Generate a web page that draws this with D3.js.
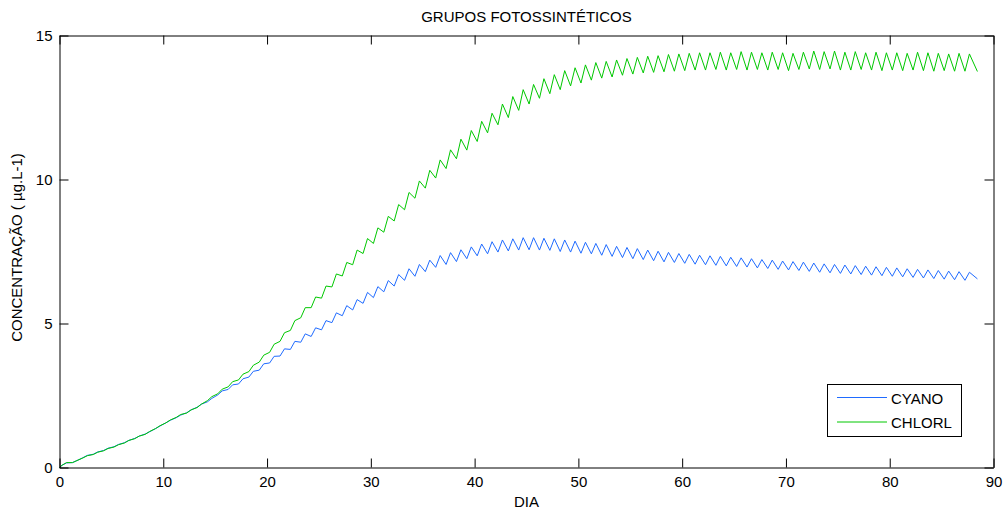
<!DOCTYPE html>
<html>
<head>
<meta charset="utf-8">
<script src="https://cdn.jsdelivr.net/npm/d3@7"></script>
<style>
  html, body { margin: 0; padding: 0; background: #fff; }
  svg { display: block; font-family: "Liberation Sans", Arial, sans-serif; }
</style>
</head>
<body>
<svg id="chart" width="1007" height="510"></svg>
<script>
// ---- Data ----
const titleText = "GRUPOS FOTOSSINTÉTICOS";
const xLabelText = "DIA";
const yLabelText = "CONCENTRAÇÃO ( µg.L-1)";
const seriesNames = ["CYANO", "CHLORL"];
const xTicks = [0, 10, 20, 30, 40, 50, 60, 70, 80, 90];
const yTicks = [0, 5, 10, 15];
const startValue = 0;        // value at day 0
const lastDay = 88.45;       // day of the final sample
// daily trough (early in the day) and peak (later in the day), day 0 .. 88
const cyanoLow = [0.08,0.17,0.34,0.46,0.59,0.72,0.86,1.01,1.16,1.35,1.55,1.73,1.9,2.09,2.28,2.52,2.71,2.9,3.14,3.38,
  3.63,3.87,4.1,4.35,4.55,4.78,5.03,5.27,5.47,5.7,5.9,6.1,6.3,6.5,6.64,6.8,6.95,7.05,7.15,7.25,
  7.35,7.42,7.48,7.52,7.55,7.56,7.55,7.54,7.5,7.48,7.44,7.42,7.37,7.33,7.29,7.25,7.22,7.18,7.14,7.12,
  7.09,7.06,7.04,7.02,7.0,6.98,6.96,6.93,6.91,6.88,6.86,6.84,6.81,6.78,6.76,6.74,6.72,6.7,6.68,6.66,
  6.64,6.62,6.6,6.58,6.56,6.54,6.52,6.5,6.55];
const cyanoHigh = [0.16,0.24,0.42,0.54,0.67,0.8,0.94,1.09,1.24,1.44,1.64,1.82,2.0,2.2,2.4,2.66,2.87,3.08,3.34,3.6,
  3.86,4.12,4.38,4.64,4.85,5.1,5.37,5.62,5.83,6.08,6.28,6.49,6.7,6.9,7.05,7.2,7.36,7.46,7.56,7.66,
  7.76,7.84,7.9,7.94,7.98,7.98,7.96,7.94,7.9,7.86,7.82,7.78,7.74,7.68,7.64,7.6,7.55,7.51,7.47,7.43,
  7.4,7.37,7.35,7.33,7.3,7.28,7.25,7.22,7.2,7.17,7.15,7.13,7.1,7.07,7.05,7.03,7.01,6.99,6.97,6.95,
  6.93,6.9,6.88,6.86,6.84,6.82,6.8,6.78];
const chlorlLow = [0.08,0.17,0.33,0.45,0.58,0.71,0.85,1.0,1.15,1.35,1.55,1.74,1.89,2.08,2.32,2.56,2.8,3.04,3.33,3.66,
  4.0,4.38,4.76,5.2,5.55,5.88,6.27,6.65,7.04,7.43,7.78,8.17,8.56,8.95,9.35,9.7,10.05,10.38,10.72,11.02,
  11.32,11.62,11.9,12.15,12.4,12.62,12.82,12.98,13.12,13.25,13.35,13.45,13.52,13.56,13.62,13.66,13.7,13.72,13.74,13.76,
  13.78,13.8,13.8,13.82,13.8,13.82,13.8,13.82,13.8,13.82,13.78,13.82,13.84,13.82,13.84,13.8,13.8,13.82,13.8,13.78,
  13.8,13.78,13.8,13.78,13.76,13.78,13.76,13.76,13.75];
const chlorlHigh = [0.17,0.24,0.41,0.53,0.66,0.79,0.94,1.09,1.25,1.45,1.65,1.84,2.0,2.2,2.46,2.72,2.98,3.24,3.55,3.9,
  4.28,4.68,5.1,5.55,5.92,6.3,6.72,7.12,7.55,7.95,8.32,8.72,9.13,9.55,9.95,10.32,10.68,11.03,11.4,11.7,
  12.02,12.3,12.62,12.88,13.12,13.3,13.5,13.64,13.78,13.88,13.98,14.06,14.1,14.15,14.2,14.24,14.28,14.3,14.34,14.36,
  14.38,14.4,14.4,14.42,14.4,14.44,14.42,14.4,14.42,14.4,14.38,14.42,14.46,14.44,14.46,14.42,14.44,14.4,14.42,14.4,
  14.4,14.38,14.42,14.4,14.38,14.36,14.38,14.36];

// ---- Build sample points from the arrays ----
function buildSeries(lows, highs) {
  const pts = [[0, startValue]];
  lows.forEach((lo, d) => {
    const isLast = d === lows.length - 1;
    pts.push([isLast ? lastDay : d + 0.25, lo]);
    if (highs[d] !== undefined) pts.push([d + 0.68, highs[d]]);
  });
  return pts;
}
const series = [
  { name: seriesNames[0], color: "#1f6bff", points: buildSeries(cyanoLow, cyanoHigh) },
  { name: seriesNames[1], color: "#00c800", points: buildSeries(chlorlLow, chlorlHigh) }
];

// ---- Layout ----
const svg = d3.select("#chart");
const pLeft = 59.5, pRight = 993.5, pTop = 35.5, pBottom = 467.5;
const x = d3.scaleLinear().domain([0, 90]).range([pLeft, pRight]);
const y = d3.scaleLinear().domain([0, 15]).range([pBottom, pTop]);
const fontSize = 15;

// lines
const line = d3.line().x(d => x(d[0])).y(d => y(d[1]));
series.forEach(s => {
  svg.append("path").datum(s.points)
    .attr("fill", "none").attr("stroke", s.color).attr("stroke-width", 1)
    .attr("stroke-linejoin", "round").attr("d", line);
});

// axes
function styleAxis(g) {
  g.attr("font-family", null).attr("font-size", null);
  g.selectAll(".domain").attr("stroke", "#000").attr("stroke-width", 1);
  g.selectAll(".tick line").attr("stroke", "#000");
  g.selectAll(".tick text").attr("fill", "#000").attr("font-size", fontSize);
}
svg.append("g").attr("transform", `translate(0,${pBottom})`)
  .call(d3.axisBottom(x).tickValues(xTicks).tickFormat(d3.format("d"))
    .tickSizeInner(-9).tickSizeOuter(0).tickPadding(9))
  .call(styleAxis);
svg.append("g").attr("transform", `translate(0,${pTop})`)
  .call(d3.axisTop(x).tickValues(xTicks).tickFormat("")
    .tickSizeInner(-9).tickSizeOuter(0))
  .call(styleAxis);
svg.append("g").attr("transform", `translate(${pLeft},0)`)
  .call(d3.axisLeft(y).tickValues(yTicks).tickFormat(d3.format("d"))
    .tickSizeInner(-9).tickSizeOuter(0).tickPadding(7))
  .call(styleAxis);
svg.append("g").attr("transform", `translate(${pRight},0)`)
  .call(d3.axisRight(y).tickValues(yTicks).tickFormat("")
    .tickSizeInner(-9).tickSizeOuter(0))
  .call(styleAxis);

// title and labels
svg.append("text").attr("x", (pLeft + pRight) / 2).attr("y", 22)
  .attr("text-anchor", "middle").attr("font-size", fontSize).attr("fill", "#000")
  .text(titleText);
svg.append("text").attr("x", (pLeft + pRight) / 2).attr("y", 507)
  .attr("text-anchor", "middle").attr("font-size", fontSize).attr("fill", "#000")
  .text(xLabelText);
svg.append("text").attr("transform", `translate(22,${(pTop + pBottom) / 2 - 4}) rotate(-90)`)
  .attr("text-anchor", "middle").attr("font-size", fontSize).attr("fill", "#000")
  .text(yLabelText);

// legend
const lg = svg.append("g");
const lx = 827.5, ly = 384.5, lw = 134, lh = 52;
lg.append("rect").attr("x", lx).attr("y", ly).attr("width", lw).attr("height", lh)
  .attr("fill", "#fff").attr("stroke", "#000").attr("stroke-width", 1);
series.forEach((s, i) => {
  const yy = 397.5 + i * 24.5;
  lg.append("line").attr("x1", 837).attr("x2", 887).attr("y1", yy).attr("y2", yy)
    .attr("stroke", s.color).attr("stroke-width", 1);
  lg.append("text").attr("x", 891).attr("y", yy + 6)
    .attr("font-size", fontSize).attr("fill", "#000").text(s.name);
});
</script>
</body>
</html>
